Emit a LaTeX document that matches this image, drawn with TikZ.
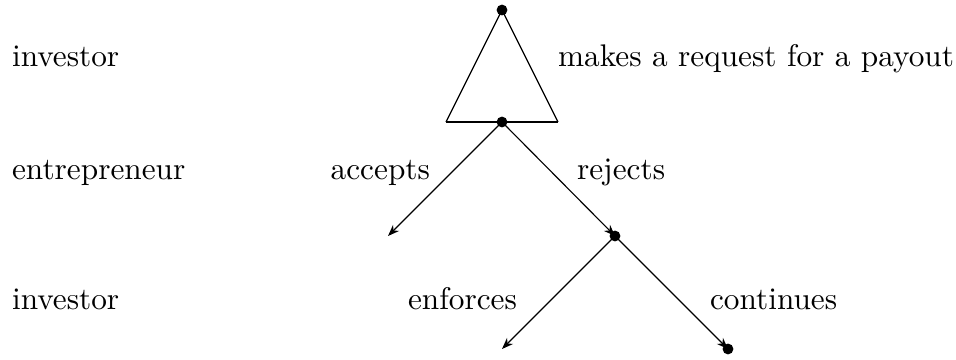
\documentclass[tikz,border=0pt]{standalone}
\usepackage{amsmath,amssymb}
\usetikzlibrary{arrows.meta}

\begin{document}
\begin{tikzpicture}[x=0.35pt, y=-0.35pt, every node/.style={font=\fontsize{10.95}{13.6}\selectfont, anchor=base west}, >={Stealth[length=4pt,width=3pt]}]
	\useasboundingbox (0,0) rectangle (956,360);
	% decision points
	\coordinate (root) at (502,10);
	\coordinate (mid) at (502,122);
	\coordinate (baseL) at (446,122);
	\coordinate (baseR) at (558,122);
	\coordinate (acc) at (388,236);
	\coordinate (rej) at (615,236);
	\coordinate (enf) at (502,349);
	\coordinate (cont) at (728,349);
	% information triangle
	\draw (baseL) -- (root) -- (baseR);
	\draw[line width=0.8pt] (baseL) -- (baseR);
	\draw[->] (mid) -- (acc);
	\draw[->] (mid) -- (rej);
	\draw[->] (rej) -- (enf);
	\draw[->] (rej) -- (cont);
	\foreach \p in {root,mid,rej,cont} {\fill (\p) circle (1.9pt);}
	% players
	\node (pl1) at (2,67) {investor};
	\node (pl2) at (2,180) {entrepreneur};
	\node (pl3) at (2,310) {investor};
	% actions
	\node (req) at (548,67) {makes a request for a payout};
	\node[anchor=base east] (lacc) at (440,180) {accepts};
	\node (lrej) at (567,180) {rejects};
	\node (lenf) at (398,310) {enforces};
	\node (lcont) at (700,310) {continues};
\end{tikzpicture}
\end{document}
